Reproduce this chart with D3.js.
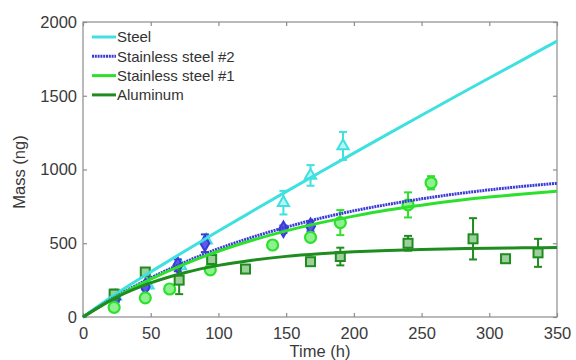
<!DOCTYPE html>
<html><head><meta charset="utf-8">
<script src="https://cdn.jsdelivr.net/npm/d3@7"></script>
<style>body{margin:0;background:#fff}svg{display:block}text{font-family:"Liberation Sans",Arial,sans-serif}</style>
</head><body><svg id="c" width="576" height="360"></svg>
<script>
// Fitted curves
const curveTimes = [0,25,50,75,100,125,150,175,200,225,250,275,300,325,350];
const steelFit   = [0,161,306,446,583,717,850,981,1111,1240,1368,1495,1620,1745,1870];
const ss2Fit     = [0,142,265,371,463,541,609,669,720,763,801,834,862,886,907];
const ss1Fit     = [0,139,257,359,446,520,584,638,684,725,758,788,813,834,852];
const alFit      = [0,135,231,300,350,385,411,429,442,451,458,463,466,469,471];

// Measured points [time, mass, error]
const steelPts = [[24,140,0],[48,215,0],[72,345,0],[91,520,0],[148,775,80],[168,960,70],[192,1160,95]];
const ss2Pts   = [[24,120,20],[46,205,20],[70,350,40],[90,500,60],[148,595,25],[168,615,35]];
const ss1Pts   = [[23,65,20],[46,130,20],[64,190,0],[94,320,20],[140,488,0],[168,540,20],[190,640,85],[240,760,85],[257,910,45]];
const alPts    = [[23,155,30],[46,305,20],[71,250,95],[95,390,20],[120,325,15],[168,375,15],[190,410,60],[240,500,50],[288,530,140],[312,395,0],[336,435,95]];

const seriesNames = ["Steel","Stainless steel #2","Stainless steel #1","Aluminum"];
const xTicks = [0,50,100,150,200,250,300,350];
const yTicks = [0,500,1000,1500,2000];

const colors = ["#3fe0e0","#3a3ad8","#2ee02e","#1f8c1f"];

const svg = d3.select("#c");
svg.append("rect").attr("width",576).attr("height",360).attr("fill","#fff");
const x = d3.scaleLinear().domain([0,350]).range([83,557]);
const y = d3.scaleLinear().domain([0,2000]).range([317,22]);

// frame
svg.append("rect").attr("x",83).attr("y",22).attr("width",474).attr("height",295)
  .attr("fill","none").attr("stroke","#8c8c8c").attr("stroke-width",1.2);

const fmt = d3.format("d");
const ax = svg.append("g").attr("transform","translate(0,317)")
  .call(d3.axisBottom(x).tickValues(xTicks).tickSize(-4).tickPadding(8).tickFormat(fmt));
const axT = svg.append("g").attr("transform","translate(0,22)")
  .call(d3.axisTop(x).tickValues(xTicks).tickSize(-4).tickFormat(""));
const ay = svg.append("g").attr("transform","translate(83,0)")
  .call(d3.axisLeft(y).tickValues(yTicks).tickSize(-4).tickPadding(6).tickFormat(fmt));
const ayR = svg.append("g").attr("transform","translate(557,0)")
  .call(d3.axisRight(y).tickValues(yTicks).tickSize(-4).tickFormat(""));
[ax,axT,ay,ayR].forEach(g=>{
  g.select(".domain").remove();
  g.selectAll(".tick line").attr("stroke","#8c8c8c").attr("stroke-width",1.2);
  g.selectAll("text").attr("font-size",16.5).attr("fill","#3a3a3a").attr("font-family","Liberation Sans, Arial, sans-serif");
});
ax.selectAll("text").attr("dy","0.85em");

svg.append("text").attr("x",320).attr("y",357).attr("text-anchor","middle")
  .attr("font-size",16.5).attr("fill","#3a3a3a").text("Time (h)");
svg.append("text").attr("transform","translate(25,172) rotate(-90)").attr("text-anchor","middle")
  .attr("font-size",16.5).attr("fill","#3a3a3a").text("Mass (ng)");

const plot = svg.append("g");
const line = d3.line().x((d,i)=>x(curveTimes[i])).y(d=>y(d)).curve(d3.curveMonotoneX);

const fits = [steelFit, ss2Fit, ss1Fit, alFit];
const pts = [steelPts, ss2Pts, ss1Pts, alPts];
const fills = ["#b8f6f6","#5a5aee","#8ef08e","#9ccf9c"];

function marker(g, k, cx, cy){
  const c = colors[k];
  if(k===0){
    g.append("path").attr("d", d3.symbol(d3.symbolTriangle, 55)()).attr("transform",`translate(${cx},${cy})`)
      .attr("fill",fills[0]).attr("stroke",c).attr("stroke-width",2);
  } else if(k===1){
    g.append("path").attr("d", d3.symbol(d3.symbolDiamond, 70)()).attr("transform",`translate(${cx},${cy})`)
      .attr("fill",fills[1]).attr("stroke",c).attr("stroke-width",2);
  } else if(k===2){
    g.append("circle").attr("cx",cx).attr("cy",cy).attr("r",5.5)
      .attr("fill",fills[2]).attr("stroke",c).attr("stroke-width",2.2);
  } else {
    g.append("rect").attr("x",cx-4.5).attr("y",cy-4.5).attr("width",9).attr("height",9)
      .attr("fill",fills[3]).attr("stroke",c).attr("stroke-width",2);
  }
}

[0,1,2,3].forEach(k=>{
  const g = plot.append("g");
  pts[k].forEach(([t,m,e])=>{
    const cx = x(t), cy = y(m);
    if(e>0){
      g.append("line").attr("x1",cx).attr("x2",cx).attr("y1",y(m-e)).attr("y2",y(m+e))
        .attr("stroke",colors[k]).attr("stroke-width",2);
      [m-e,m+e].forEach(v=>g.append("line").attr("x1",cx-4).attr("x2",cx+4).attr("y1",y(v)).attr("y2",y(v))
        .attr("stroke",colors[k]).attr("stroke-width",2));
    }
    marker(g,k,cx,cy);
  });
});
[0,1,2,3].forEach(k=>{
  const p = plot.append("path").datum(fits[k]).attr("d",line).attr("fill","none")
    .attr("stroke",colors[k]).attr("stroke-width",3);
  if(k===1) p.attr("stroke-dasharray","2,0.8");
});

// legend
const lg = svg.append("g");
seriesNames.forEach((n,i)=>{
  const yy = 37 + i*19.3;
  const l = lg.append("line").attr("x1",92).attr("x2",116).attr("y1",yy).attr("y2",yy)
    .attr("stroke",colors[i]).attr("stroke-width",3);
  if(i===1) l.attr("stroke-dasharray","2,0.8");
  lg.append("text").attr("x",117).attr("y",yy).attr("dy","0.36em").attr("font-size",15)
    .attr("fill","#333").text(n);
});
</script></body></html>
